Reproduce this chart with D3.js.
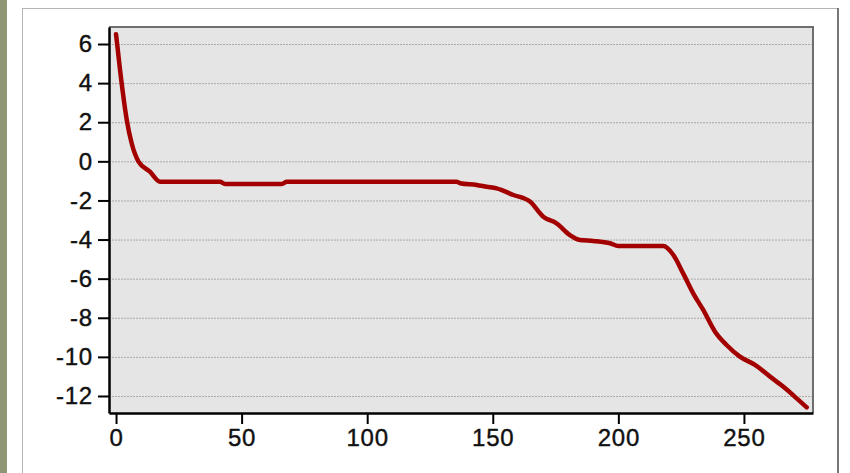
<!DOCTYPE html>
<html>
<head>
<meta charset="utf-8">
<script src="https://cdn.jsdelivr.net/npm/d3@7"></script>
<style>
body { margin: 0; background: #fff; }
svg { display: block; font-family: "Liberation Sans", Arial, sans-serif; }
</style>
</head>
<body>
<script>
const WIDTH = 850;
const HEIGHT = 473;
const LEFT = 109, RIGHT = 813, TOP = 27, BOTTOM = 413;

// values
var xValues = [0, 1.6, 4.3, 6.2, 8.9, 13.5, 17.5, 41.4, 43.4, 66, 68, 135.6, 137, 143.6,
	147.6, 151.5, 158.2, 164.8, 170.1, 175.4, 180.7, 184.7, 190, 196.7, 200, 217.9, 221.9,
	225.8, 229.8, 233.8, 238.5, 243.1, 248.4, 254.4, 260.4, 265.6, 271, 275];
var yValues = [6.5, 4.67, 2.1, 0.94, 0, -0.53, -1.04, -1.05, -1.16, -1.16, -1.05, -1.05, -1.12, -1.21,
	-1.3, -1.38, -1.72, -2.06, -2.83, -3.17, -3.77, -4.02, -4.07, -4.19, -4.33, -4.33, -4.79,
	-5.73, -6.75, -7.6, -8.71, -9.39, -9.99, -10.41, -11.01, -11.52, -12.12, -12.58];

var xTicks = [0, 50, 100, 150, 200, 250];
var yTicks = [6, 4, 2, 0, -2, -4, -6, -8, -10, -12];

var drawChart = function(){
	var svg = d3.select('body').append('svg')
		.attr('width', WIDTH)
		.attr('height', HEIGHT);

	// left textured strip and the white panel
	svg.append('rect').attr('x', 0).attr('y', 0).attr('width', 7).attr('height', HEIGHT)
		.attr('fill', '#8f9676');
	svg.append('rect').attr('x', 22.5).attr('y', 8.5).attr('width', 815).attr('height', 480)
		.attr('fill', '#fff').attr('stroke', '#b5b5b5').attr('stroke-width', 1);
	svg.append('line').attr('x1', 838).attr('x2', 838).attr('y1', 8).attr('y2', HEIGHT)
		.attr('stroke', '#777').attr('stroke-width', 2);

	var xScale = d3.scaleLinear().domain([-2.8, 277.5]).range([LEFT, RIGHT]);
	var yScale = d3.scaleLinear().domain([-12.87, 6.87]).range([BOTTOM, TOP]);

	// plot background
	svg.append('rect')
		.attr('x', LEFT).attr('y', TOP)
		.attr('width', RIGHT - LEFT).attr('height', BOTTOM - TOP)
		.attr('fill', '#e5e5e5');

	// dotted grid at y ticks
	svg.append('g').selectAll('line')
		.data(yTicks)
		.enter().append('line')
		.attr('x1', LEFT).attr('x2', RIGHT)
		.attr('y1', function(d){ return yScale(d) + 0.5; })
		.attr('y2', function(d){ return yScale(d) + 0.5; })
		.attr('stroke', '#aaaaaa')
		.attr('stroke-width', 1)
		.attr('stroke-dasharray', '2,1');

	// top and right frame
	svg.append('path')
		.attr('d', 'M' + LEFT + ',' + TOP + 'H' + RIGHT + 'V' + BOTTOM)
		.attr('fill', 'none').attr('stroke', '#6e6e6e').attr('stroke-width', 2);

	var line = d3.line()
		.x(function(d){ return xScale(d[0]); })
		.y(function(d){ return yScale(d[1]); })
		.curve(d3.curveMonotoneX);

	svg.append('path')
		.attr('d', line(d3.zip(xValues, yValues)))
		.attr('fill', 'none')
		.attr('stroke', '#a30000')
		.attr('stroke-width', 4.5)
		.attr('stroke-linejoin', 'round')
		.attr('stroke-linecap', 'round');

	var xAxis = d3.axisBottom(xScale).tickValues(xTicks).tickSize(11).tickPadding(5).tickSizeOuter(0);
	var gx = svg.append('g')
		.attr('transform', 'translate(0,' + BOTTOM + ')')
		.call(xAxis);

	var yAxis = d3.axisLeft(yScale).tickValues(yTicks).tickSize(11).tickPadding(5).tickSizeOuter(0);
	var gy = svg.append('g')
		.attr('transform', 'translate(' + LEFT + ',0)')
		.call(yAxis);

	[gx, gy].forEach(function(g){
		g.select('.domain').attr('stroke', '#000').attr('stroke-width', 2.5);
		g.selectAll('.tick line').attr('stroke', '#000').attr('stroke-width', 2);
		g.selectAll('.tick text')
			.attr('fill', '#111')
			.attr('stroke', '#111')
			.attr('stroke-width', 0.4)
			.style('font-size', '24px')
			.style('letter-spacing', '0.8px')
			.style('font-family', '"Liberation Sans", Arial, sans-serif');
	});
	gy.selectAll('.tick text').text(function(d){ return d < 0 ? '-' + Math.abs(d) : d; });
}

window.onload = function(){
	drawChart();
}
</script>
</body>
</html>
